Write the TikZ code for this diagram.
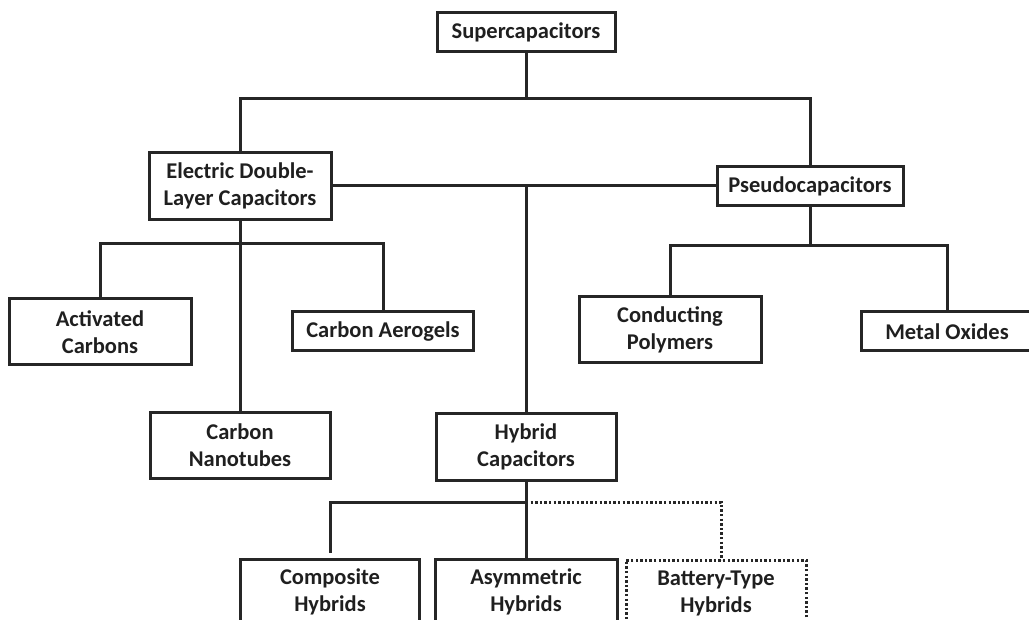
\documentclass[tikz,border=0pt]{standalone}
\usepackage{fontspec}
\setmainfont{Carlito}
\begin{document}
\begin{tikzpicture}[x=1pt,y=-1pt,
  ln/.style={line width=3pt,draw=black!85},
  boxn/.style={ln,rectangle,inner sep=0pt,align=center,text=black!88,
     font=\bfseries\fontsize{22.5}{27}\selectfont},
  dotbox/.style={boxn,dash pattern=on 2.4pt off 2.2pt},
  dotln/.style={ln,dash pattern=on 2.4pt off 2.2pt}]
\useasboundingbox (0,0) rectangle (1029,620);
\clip (0,0) rectangle (1029,620);
% nodes
\node[boxn,minimum width=178,minimum height=39] (sup) at (526,32.5) {Supercapacitors};
\node[boxn,minimum width=182,minimum height=67] (edlc) at (240,186) {Electric Double-\\Layer Capacitors};
\node[boxn,minimum width=186,minimum height=39] (pseudo) at (810,186) {Pseudocapacitors};
\node[boxn,minimum width=182,minimum height=66] (act) at (100,332) {Activated\\Carbons};
\node[boxn,minimum width=181,minimum height=39] (aero) at (383,331.5) {Carbon Aerogels};
\node[boxn,minimum width=180,minimum height=65] (cnt) at (240,445.5) {Carbon\\Nanotubes};
\node[boxn,minimum width=180,minimum height=66] (hyb) at (526,447) {Hybrid\\Capacitors};
\node[boxn,minimum width=182,minimum height=66] (cond) at (670,330) {Conducting\\Polymers};
\node[boxn,minimum width=172,minimum height=39] (metal) at (947,331.5) {Metal Oxides};
\node[boxn,minimum width=179,minimum height=66] (comp) at (330,592) {Composite\\Hybrids};
\node[boxn,minimum width=182,minimum height=66] (asym) at (526,592) {Asymmetric\\Hybrids};
\node[dotbox,minimum width=180,minimum height=66] (batt) at (716,593) {Battery-Type\\Hybrids};
% junctions
\coordinate (j1) at (526,99);
\coordinate (j2) at (240,244);
\coordinate (j3) at (810,246);
\coordinate (j4) at (526,502);
\coordinate (jb) at (721,560);
% connectors
\draw[ln] (sup.south) -- (j1);
\draw[ln] (edlc.north) |- (j1) -| (pseudo.north);
\draw[ln] (edlc.east) -- (pseudo.west);
\draw[ln] (hyb.north) -- (hyb.north |- edlc.east);
\draw[ln] (edlc.south) -- (cnt.north);
\draw[ln] (act.north) |- (j2) -| (aero.north);
\draw[ln] (pseudo.south) -- (j3);
\draw[ln] (cond.north) |- (j3) -| (metal.north);
\draw[ln] (hyb.south) -- (asym.north);
\draw[ln,shorten <=5pt] (comp.north) |- (j4);
\draw[dotln] (j4) -| (jb);
\end{tikzpicture}
\end{document}
